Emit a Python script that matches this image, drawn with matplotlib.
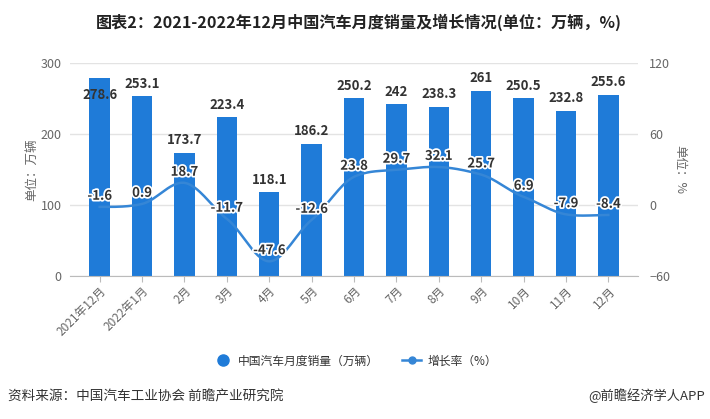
import numpy as np
import matplotlib
matplotlib.use("Agg")
import matplotlib.pyplot as plt
import matplotlib.patheffects as pe
from matplotlib.lines import Line2D

plt.rcParams['font.family'] = ['Noto Sans CJK SC', 'DejaVu Sans']

categories = ['2021年12月', '2022年1月', '2月', '3月', '4月', '5月', '6月',
              '7月', '8月', '9月', '10月', '11月', '12月']
sales = [278.6, 253.1, 173.7, 223.4, 118.1, 186.2, 250.2, 242, 238.3, 261, 250.5, 232.8, 255.6]
growth = [-1.6, 0.9, 18.7, -11.7, -47.6, -12.6, 23.8, 29.7, 32.1, 25.7, 6.9, -7.9, -8.4]
left_ticks = [0, 100, 200, 300]
right_ticks = [-60, 0, 60, 120]

bar_color = '#1f7bd8'
line_color = '#3586d6'
text_gray = '#666666'

fig = plt.figure(figsize=(7.1, 4.19), dpi=100)
ax = fig.add_axes([70/710, 1-276/419, 568/710, 213/419])
ax2 = ax.twinx()

x = np.arange(len(categories))
ax.bar(x, sales, width=0.48, color=bar_color, zorder=2)
ax.set_xlim(-0.7, len(categories) - 0.3)
ax.set_ylim(0, 300)
ax.set_yticks(left_ticks)
ax.grid(axis='y', color='#e3e3e3', linewidth=1, zorder=0)
ax.set_axisbelow(True)
for s in ['top', 'right', 'left']:
    ax.spines[s].set_visible(False)
ax.spines['bottom'].set_color('#bbbbbb')
ax.tick_params(axis='y', length=0, labelsize=9, labelcolor=text_gray, pad=6)
ax.tick_params(axis='x', length=4, color='#bbbbbb', labelsize=8.5, labelcolor=text_gray, pad=2)
ax.set_xticks(x)
ax.set_xticklabels(categories, rotation=45, ha='right', rotation_mode='anchor')
ax.set_ylabel('单位：万辆', color=text_gray, fontsize=9, labelpad=2)

# bar labels
for xi, v in zip(x, sales):
    if v > 270:
        ax.annotate(f'{v:g}', (xi, v), xytext=(0, -12), textcoords='offset points',
                    ha='center', va='center', fontsize=9.5, fontweight='bold', color='#333333', zorder=5)
    else:
        ax.annotate(f'{v:g}', (xi, v), xytext=(0, 9), textcoords='offset points',
                    ha='center', va='center', fontsize=9.5, fontweight='bold', color='#333333', zorder=5)

# smooth line (cubic Hermite / Catmull-Rom)
def smooth(xs, ys, n=30, k=0.8):
    xs = np.asarray(xs, float); ys = np.asarray(ys, float)
    m = np.zeros_like(ys)
    m[1:-1] = (ys[2:] - ys[:-2]) / (xs[2:] - xs[:-2]) * k
    m[0] = 0; m[-1] = 0
    ox, oy = [], []
    for i in range(len(xs) - 1):
        t = np.linspace(0, 1, n, endpoint=False)
        h = xs[i+1] - xs[i]
        h00 = 2*t**3 - 3*t**2 + 1
        h10 = t**3 - 2*t**2 + t
        h01 = -2*t**3 + 3*t**2
        h11 = t**3 - t**2
        ox.extend(xs[i] + t*h)
        oy.extend(h00*ys[i] + h10*h*m[i] + h01*ys[i+1] + h11*h*m[i+1])
    ox.append(xs[-1]); oy.append(ys[-1])
    return np.array(ox), np.array(oy)

sx, sy = smooth(x, growth)
ax2.plot(sx, sy, color=line_color, linewidth=1.8, zorder=3)
ax2.set_ylim(-60, 120)
ax2.set_yticks(right_ticks)
for s in ['top', 'right', 'left', 'bottom']:
    ax2.spines[s].set_visible(False)
ax2.tick_params(axis='y', length=0, labelsize=9, labelcolor=text_gray, pad=8)
ax2.set_ylabel('单位：%', color=text_gray, fontsize=9, rotation=270, labelpad=12)

for xi, v in zip(x, growth):
    ax2.annotate(f'{v:g}', (xi, v), xytext=(0, 8), textcoords='offset points',
                 ha='center', va='center', fontsize=9.5, fontweight='bold', color='#333333', zorder=6,
                 path_effects=[pe.withStroke(linewidth=2.5, foreground='white')])

fig.text(0.5 + 4/710, 1-22/419, '图表2：2021-2022年12月中国汽车月度销量及增长情况(单位：万辆，%)',
         ha='center', va='center', fontsize=11.6, fontweight='bold', color='#222222')

handles = [Line2D([], [], marker='o', linestyle='none', markersize=8, color=bar_color),
           Line2D([], [], marker='o', linestyle='-', markersize=5, color=line_color, linewidth=1.8)]
fig.legend(handles, ['中国汽车月度销量（万辆）', '增长率（%）'], loc='center',
           bbox_to_anchor=(355/710, 1-361/419), ncol=2, frameon=False, fontsize=8.5,
           handlelength=1.6, columnspacing=2.0, handletextpad=0.5, labelcolor='#333333')

fig.text(8/710, 1-396/419, '资料来源：中国汽车工业协会 前瞻产业研究院', ha='left', va='center',
         fontsize=9.8, color='#333333')
fig.text(705/710, 1-396/419, '@前瞻经济学人APP', ha='right', va='center', fontsize=9.5, color='#333333')

fig.savefig('out.png', dpi=100)
